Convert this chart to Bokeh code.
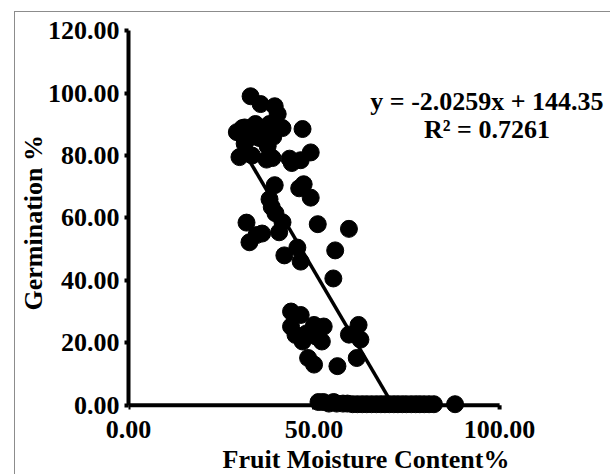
from bokeh.plotting import figure
from bokeh.models import FixedTicker, NumeralTickFormatter, Label
from bokeh.embed import file_html
from bokeh.resources import INLINE

# Data
moisture = [32.9, 35.6, 39.4, 40.2, 30.7, 34.2, 38.0, 41.5, 46.9, 29.2, 31.3, 33.4,
            35.3, 37.5, 31.3, 29.9, 33.3, 38.8, 37.2, 43.4, 46.4, 44.0, 49.1, 36.5, 39.0,
            39.4, 46.0, 47.2, 49.1, 38.0, 38.6, 39.6, 31.8, 32.6, 34.5, 36.0, 41.5, 40.6,
            51.0, 59.4, 55.7, 42.0, 45.5, 46.4, 55.2,
            43.8, 46.4, 43.8, 50.0, 52.6, 46.9, 52.1, 48.4, 50.0, 56.3, 59.4, 62.0, 62.5,
            61.5, 48.0, 50.5, 45.0,
            51.2, 52.5, 54.0, 55.3, 56.1, 57.8, 59.0, 60.4, 61.7, 63.0, 64.2, 65.5, 66.8,
            68.0, 69.1, 70.3, 71.5, 72.6, 73.8, 74.9, 76.2, 77.4, 78.5, 79.7, 81.0, 82.3,
            88.0]
germination = [99.0, 96.5, 95.8, 93.3, 88.8, 90.1, 90.1, 88.8, 88.5, 87.5, 89.0, 86.0,
               85.6, 83.0, 83.8, 79.5, 80.0, 79.2, 78.7, 79.0, 78.5, 77.6, 81.0, 88.5, 86.0,
               70.5, 69.5, 70.8, 66.5, 66.0, 63.5, 61.5, 58.5, 52.2, 54.5, 55.0, 58.6, 55.4,
               58.0, 56.5, 49.6, 48.0, 50.5, 46.0, 40.6,
               30.0, 28.9, 25.2, 25.7, 25.2, 20.4, 20.4, 15.1, 13.0, 12.5, 22.6, 25.7, 21.0,
               15.1, 23.0, 22.0, 22.5,
               1.0, 1.0, 0.5, 1.0, 0.5, 0.5, 0.5, 0.3, 0.3, 0.3, 0.3, 0.3, 0.3,
               0.3, 0.3, 0.3, 0.3, 0.3, 0.3, 0.3, 0.3, 0.3, 0.3, 0.3, 0.3, 0.3,
               0.3]
slope = -2.0259
intercept = 144.35
r_squared = 0.7261
x_ticks = [0, 50, 100]
y_ticks = [0, 20, 40, 60, 80, 100, 120]

FONT = "Liberation Serif"
FS = "26px"

p = figure(frame_width=475, frame_height=390,
           x_range=(0, 128), y_range=(-3, 122),
           output_backend="svg", toolbar_location=None,
           min_border_left=112, min_border_top=12, min_border_right=7, min_border_bottom=60,
           margin=(11, 0, 0, 14),
           styles={"border": "1px solid #8c8c8c"})
p.outline_line_color = None
p.grid.visible = False
p.background_fill_color = "white"

# x axis line at y = 0 with its end ticks
p.line([x_ticks[0], x_ticks[-1]], [0, 0], line_color="black", line_width=4)
p.segment(x0=x_ticks, y0=[0] * len(x_ticks), x1=x_ticks, y1=[-1.4] * len(x_ticks),
          line_color="black", line_width=4)

# trendline from data min to x-intercept
x0 = min(moisture)
x1 = -intercept / slope
p.line([x0, x1], [slope * x0 + intercept, 0], line_color="black", line_width=3.5)

p.scatter(moisture, germination, size=17, fill_color="black", line_color="black")


def style(ax):
    ax.major_label_text_font = FONT
    ax.major_label_text_font_style = "bold"
    ax.major_label_text_font_size = FS
    ax.major_label_text_color = "black"
    ax.axis_label_text_font = FONT
    ax.axis_label_text_font_style = "bold"
    ax.axis_label_text_font_size = FS
    ax.axis_label_text_color = "black"
    ax.formatter = NumeralTickFormatter(format="0.00")
    ax.minor_tick_line_color = None


# y axis (at frame left, x = 0)
yax = p.yaxis[0]
style(yax)
yax.ticker = FixedTicker(ticks=y_ticks)
yax.bounds = (0, 120)
yax.axis_line_width = 4
yax.major_tick_line_width = 4
yax.major_tick_out = 4
yax.major_tick_in = 0
yax.major_label_standoff = 5
yax.axis_label = "Germination  %"
yax.axis_label_standoff = -3

# x labels axis (frame bottom, line hidden)
xlab = p.xaxis[0]
style(xlab)
xlab.ticker = FixedTicker(ticks=x_ticks)
xlab.axis_line_color = None
xlab.major_tick_line_color = None
xlab.major_tick_out = 0
xlab.major_tick_in = 0
xlab.major_label_standoff = 6
xlab.axis_label = "Fruit Moisture Content%"
xlab.axis_label_standoff = 4

p.add_layout(Label(x=96.6, y=97.4, text=f"y = {slope}x + {intercept}",
                   text_align="center", text_baseline="middle", text_color="black",
                   text_font=FONT, text_font_style="bold", text_font_size=FS))
p.add_layout(Label(x=96.6, y=88.5, text=f"R\u00b2 = {r_squared}",
                   text_align="center", text_baseline="middle", text_color="black",
                   text_font=FONT, text_font_style="bold", text_font_size=FS))

open("out.html", "w").write(file_html(p, INLINE))
